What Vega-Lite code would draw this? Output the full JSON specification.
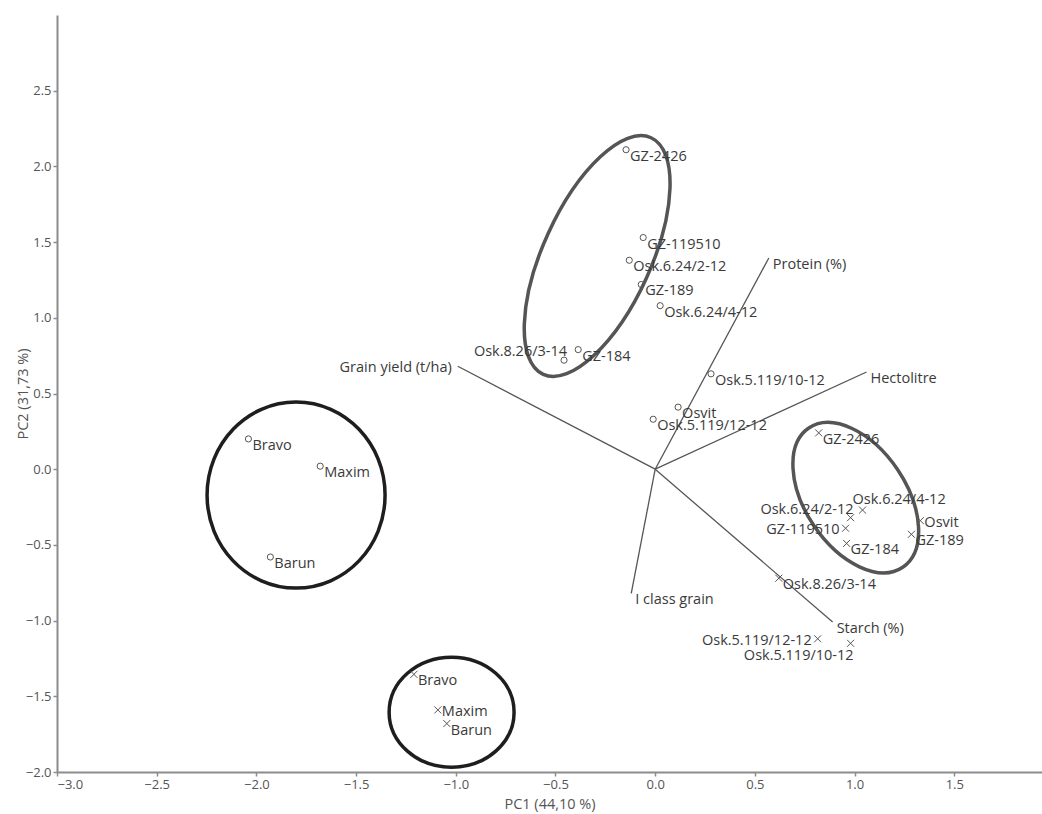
{
  "$schema": "https://vega.github.io/schema/vega-lite/v6.json",
  "width": 985,
  "height": 757,
  "autosize": {"type": "none"},
  "padding": {"left": 57, "top": 15, "right": 0, "bottom": 42},
  "background": "white",
  "config": {
    "view": {"stroke": null},
    "font": "Open Sans",
    "axis": {
      "grid": false,
      "domainColor": "#8c8c8c",
      "domainWidth": 2,
      "tickColor": "#8c8c8c",
      "tickSize": 4,
      "tickWidth": 1.5,
      "labelColor": "#555555",
      "labelFont": "Open Sans",
      "labelFontSize": 13,
      "titleColor": "#555555",
      "titleFont": "Open Sans",
      "titleFontSize": 14.5,
      "titleFontWeight": "normal"
    }
  },
  "data": {
    "values": [
      {"name": "GZ-2426", "pc1": -0.146, "pc2": 2.11, "kind": "circle", "pos": "r"},
      {"name": "GZ-119510", "pc1": -0.06, "pc2": 1.53, "kind": "circle", "pos": "r"},
      {"name": "Osk.6.24/2-12", "pc1": -0.13, "pc2": 1.38, "kind": "circle", "pos": "r"},
      {"name": "GZ-189", "pc1": -0.07, "pc2": 1.22, "kind": "circle", "pos": "r"},
      {"name": "Osk.6.24/4-12", "pc1": 0.025, "pc2": 1.08, "kind": "circle", "pos": "r"},
      {"name": "Osk.8.26/3-14", "pc1": -0.457, "pc2": 0.72, "kind": "circle", "pos": "ul"},
      {"name": "GZ-184", "pc1": -0.386, "pc2": 0.79, "kind": "circle", "pos": "r"},
      {"name": "Osk.5.119/10-12", "pc1": 0.28, "pc2": 0.63, "kind": "circle", "pos": "r"},
      {"name": "Osvit", "pc1": 0.115, "pc2": 0.41, "kind": "circle", "pos": "r"},
      {"name": "Osk.5.119/12-12", "pc1": -0.01, "pc2": 0.33, "kind": "circle", "pos": "r"},
      {"name": "Bravo", "pc1": -2.04, "pc2": 0.2, "kind": "circle", "pos": "r"},
      {"name": "Maxim", "pc1": -1.68, "pc2": 0.02, "kind": "circle", "pos": "r"},
      {"name": "Barun", "pc1": -1.93, "pc2": -0.58, "kind": "circle", "pos": "r"},
      {"name": "GZ-2426", "pc1": 0.82, "pc2": 0.24, "kind": "cross", "pos": "r"},
      {"name": "Osk.6.24/4-12", "pc1": 1.04, "pc2": -0.27, "kind": "cross", "pos": "u"},
      {"name": "Osk.6.24/2-12", "pc1": 0.98, "pc2": -0.32, "kind": "cross", "pos": "ul"},
      {"name": "GZ-119510", "pc1": 0.955, "pc2": -0.39, "kind": "cross", "pos": "l"},
      {"name": "Osvit", "pc1": 1.33, "pc2": -0.34, "kind": "cross", "pos": "rm"},
      {"name": "GZ-189", "pc1": 1.285, "pc2": -0.43, "kind": "cross", "pos": "r"},
      {"name": "GZ-184", "pc1": 0.96, "pc2": -0.49, "kind": "cross", "pos": "r"},
      {"name": "Osk.8.26/3-14", "pc1": 0.62, "pc2": -0.72, "kind": "cross", "pos": "r"},
      {"name": "Osk.5.119/12-12", "pc1": 0.815, "pc2": -1.12, "kind": "cross", "pos": "l"},
      {"name": "Osk.5.119/10-12", "pc1": 0.98, "pc2": -1.15, "kind": "cross", "pos": "bl"},
      {"name": "Bravo", "pc1": -1.21, "pc2": -1.355, "kind": "cross", "pos": "r"},
      {"name": "Maxim", "pc1": -1.09, "pc2": -1.59, "kind": "cross", "pos": "rm"},
      {"name": "Barun", "pc1": -1.045, "pc2": -1.68, "kind": "cross", "pos": "r"},
      {"name": "Protein (%)", "pc1": 0.57, "pc2": 1.395, "kind": "loading", "pos": "r"},
      {"name": "Hectolitre", "pc1": 1.06, "pc2": 0.642, "kind": "loading", "pos": "r"},
      {"name": "Grain yield (t/ha)", "pc1": -0.99, "pc2": 0.68, "kind": "loading", "pos": "l"},
      {"name": "Starch (%)", "pc1": 0.89, "pc2": -1.01, "kind": "loading", "pos": "r"},
      {"name": "I class grain", "pc1": -0.12, "pc2": -0.82, "kind": "loading", "pos": "r"}
    ]
  },
  "encoding": {
    "x": {
      "field": "pc1", "type": "quantitative",
      "scale": {"domain": [-3, 1.94], "nice": false, "zero": false},
      "axis": {"values": [-3, -2.5, -2, -1.5, -1, -0.5, 0, 0.5, 1, 1.5], "format": ".1f", "title": "PC1 (44,10 %)", "titlePadding": 6}
    },
    "y": {
      "field": "pc2", "type": "quantitative",
      "scale": {"domain": [-2, 3], "nice": false, "zero": false},
      "axis": {"values": [-2, -1.5, -1, -0.5, 0, 0.5, 1, 1.5, 2, 2.5], "format": ".1f", "title": "PC2 (31,73 %)", "titlePadding": -5}
    }
  },
  "layer": [
    {
      "data": {"values": [{"pc1": -0.291, "pc2": 1.408}]},
      "mark": {"type": "point", "shape": "M0,-1 C0.2292,-1 0.415,-0.5523 0.415,0 C0.415,0.5523 0.2292,1 0,1 C-0.2292,1 -0.415,0.5523 -0.415,0 C-0.415,-0.5523 -0.2292,-1 0,-1 Z", "size": 67600, "angle": 24.5, "filled": false, "stroke": "#555555", "strokeWidth": 3.5, "opacity": 1}
    },
    {
      "data": {"values": [{"pc1": -1.801, "pc2": -0.171}]},
      "mark": {"type": "point", "shape": "M0,-1 C0.5285,-1 0.957,-0.5523 0.957,0 C0.957,0.5523 0.5285,1 0,1 C-0.5285,1 -0.957,0.5523 -0.957,0 C-0.957,-0.5523 -0.5285,-1 0,-1 Z", "size": 34596, "angle": 0, "filled": false, "stroke": "#1e1e1e", "strokeWidth": 3.5, "opacity": 1}
    },
    {
      "data": {"values": [{"pc1": -1.021, "pc2": -1.605}]},
      "mark": {"type": "point", "shape": "M0,-1 C0.6274,-1 1.136,-0.5523 1.136,0 C1.136,0.5523 0.6274,1 0,1 C-0.6274,1 -1.136,0.5523 -1.136,0 C-1.136,-0.5523 -0.6274,-1 0,-1 Z", "size": 12100, "angle": 0, "filled": false, "stroke": "#1e1e1e", "strokeWidth": 3.5, "opacity": 1}
    },
    {
      "data": {"values": [{"pc1": 1.006, "pc2": -0.188}]},
      "mark": {"type": "point", "shape": "M0,-1 C0.3314,-1 0.6,-0.5523 0.6,0 C0.6,0.5523 0.3314,1 0,1 C-0.3314,1 -0.6,0.5523 -0.6,0 C-0.6,-0.5523 -0.3314,-1 0,-1 Z", "size": 28224, "angle": -34, "filled": false, "stroke": "#555555", "strokeWidth": 3.5, "opacity": 1}
    },
    {
      "transform": [{"filter": "datum.kind === 'loading'"}],
      "mark": {"type": "rule", "color": "#555555", "strokeWidth": 1.3},
      "encoding": {"x2": {"datum": 0}, "y2": {"datum": 0}}
    },
    {
      "transform": [{"filter": "datum.kind === 'circle'"}],
      "mark": {"type": "point", "shape": "circle", "size": 38, "filled": false, "stroke": "#555555", "strokeWidth": 1, "opacity": 1}
    },
    {
      "transform": [{"filter": "datum.kind === 'cross'"}],
      "mark": {"type": "point", "shape": "M-1,-1L1,1M-1,1L1,-1", "size": 49, "filled": false, "stroke": "#555555", "strokeWidth": 1, "opacity": 1}
    },
    {
      "transform": [{"filter": "datum.pos === 'r'"}],
      "mark": {"type": "text", "align": "left", "baseline": "middle", "dx": 4, "dy": 7, "fontSize": 14.5, "color": "#3a3a3a"},
      "encoding": {"text": {"field": "name"}}
    },
    {
      "transform": [{"filter": "datum.pos === 'rm'"}],
      "mark": {"type": "text", "align": "left", "baseline": "middle", "dx": 4, "dy": 2, "fontSize": 14.5, "color": "#3a3a3a"},
      "encoding": {"text": {"field": "name"}}
    },
    {
      "transform": [{"filter": "datum.pos === 'l'"}],
      "mark": {"type": "text", "align": "right", "baseline": "middle", "dx": -6, "dy": 2, "fontSize": 14.5, "color": "#3a3a3a"},
      "encoding": {"text": {"field": "name"}}
    },
    {
      "transform": [{"filter": "datum.pos === 'ul'"}],
      "mark": {"type": "text", "align": "right", "baseline": "middle", "dx": 3, "dy": -8, "fontSize": 14.5, "color": "#3a3a3a"},
      "encoding": {"text": {"field": "name"}}
    },
    {
      "transform": [{"filter": "datum.pos === 'u'"}],
      "mark": {"type": "text", "align": "left", "baseline": "middle", "dx": -10, "dy": -10, "fontSize": 14.5, "color": "#3a3a3a"},
      "encoding": {"text": {"field": "name"}}
    },
    {
      "transform": [{"filter": "datum.pos === 'bl'"}],
      "mark": {"type": "text", "align": "right", "baseline": "middle", "dx": 3, "dy": 13, "fontSize": 14.5, "color": "#3a3a3a"},
      "encoding": {"text": {"field": "name"}}
    }
  ]
}
